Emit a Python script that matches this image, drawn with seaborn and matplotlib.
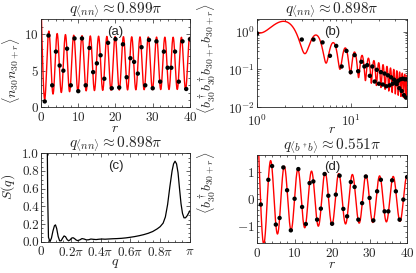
import numpy as np
import seaborn as sns
import matplotlib.pyplot as plt
from matplotlib.ticker import MultipleLocator, FixedLocator

# (a) density-density correlation, r = 1..40
r_a = list(range(1, 41))
nn_a = [0.8, 9.8, 3.0, 7.6, 5.7, 5.0, 8.0, 3.0, 9.4, 2.2,
        9.4, 3.0, 8.1, 4.8, 6.0, 7.1, 3.9, 8.8, 2.6, 9.3,
        2.7, 8.6, 4.1, 6.7, 6.2, 4.6, 8.2, 3.0, 9.2, 2.6,
        9.0, 3.5, 7.6, 5.4, 5.4, 7.6, 3.5, 9.0, 2.5, 9.3]
# fit parameters
q_a = 0.899
mean_a, amp_a, amp0_a, beta_a, phi_a = 6.0, 3.3, 1.6, 0.5, 0.101

# (b) pair correlation (log-log)
r_b = [1, 3, 4, 5, 6, 7, 8, 9, 10, 11, 12, 13, 14, 15, 16, 17, 18, 19, 20,
       21, 22, 23, 24, 25, 26, 27, 28, 29, 30, 31, 32, 33, 34, 35, 36, 37,
       38, 39, 40]
pair_b = [0.9, 0.62, 0.62, 0.52, 0.23, 0.42, 0.12, 0.31, 0.085, 0.24,
          0.09, 0.16, 0.12, 0.13, 0.068, 0.12, 0.048, 0.098, 0.042, 0.085,
          0.04, 0.078, 0.036, 0.07, 0.038, 0.062, 0.042, 0.054, 0.045, 0.041,
          0.05, 0.032, 0.055, 0.027, 0.057, 0.021, 0.055, 0.018, 0.055]
q_b = 0.898
amp_b, alpha_b, mod_b, phi_b = 2.5, 1.1, 0.62, 0.114

# (c) structure factor, q in units of pi
q_c = [0.040, 0.045, 0.050, 0.060, 0.070, 0.080, 0.090, 0.097, 0.105, 0.115,
       0.125, 0.135, 0.145, 0.155, 0.165, 0.175, 0.185, 0.195, 0.205, 0.215,
       0.225, 0.235, 0.245, 0.26, 0.275, 0.29, 0.305, 0.32, 0.335, 0.35,
       0.37, 0.39, 0.41, 0.43, 0.45, 0.48, 0.51, 0.54, 0.57, 0.60,
       0.63, 0.66, 0.69, 0.72, 0.75, 0.78, 0.80, 0.82, 0.835, 0.85,
       0.865, 0.88, 0.89, 0.90, 0.91, 0.92, 0.93, 0.94, 0.95, 0.96,
       0.97, 0.98, 0.99, 1.00]
s_c = [1.5, 0.5, 0.05, 0.0, 0.04, 0.12, 0.18, 0.19, 0.15, 0.06,
       0.01, 0.01, 0.04, 0.065, 0.055, 0.025, 0.01, 0.02, 0.04, 0.045,
       0.035, 0.02, 0.012, 0.02, 0.035, 0.03, 0.02, 0.022, 0.03, 0.027,
       0.024, 0.028, 0.03, 0.028, 0.03, 0.033, 0.035, 0.038, 0.043, 0.05,
       0.058, 0.068, 0.08, 0.095, 0.115, 0.145, 0.17, 0.21, 0.28, 0.42,
       0.62, 0.8, 0.88, 0.91, 0.88, 0.78, 0.6, 0.43, 0.32, 0.27,
       0.27, 0.29, 0.32, 0.35]
q_ticks = ['0', r'$0.2\pi$', r'$0.4\pi$', r'$0.6\pi$', r'$0.8\pi$', r'$\pi$']

# (d) single particle correlation (r = 2 lies above the frame)
r_d = [1] + list(range(3, 41))
g_d = [-0.2, 0.7, 1.2, -0.93, -0.69, 1.15, 0.32, -1.14, 0.01,
       1.09, -0.29, -0.91, 0.58, 0.64, -0.75, -0.35, 0.91, 0.12, -0.9,
       0.16, 0.85, -0.36, -0.63, 0.62, 0.44, -0.75, -0.15, 0.82, 0.04,
       -0.78, 0.28, 0.7, -0.45, -0.45, 0.68, 0.28, -0.75, -0.02, 0.8]
q_d = 0.551
amp_d, alpha_d = 1.88, 0.23

sns.set_style('ticks')
plt.rcParams['font.family'] = 'serif'
plt.rcParams['font.serif'] = ['cmr10']
plt.rcParams['mathtext.fontset'] = 'cm'
plt.rcParams['axes.formatter.use_mathtext'] = True
plt.rcParams['axes.linewidth'] = 0.6

fig = plt.figure(figsize=(4.16, 2.73), dpi=100)
ax_a = fig.add_axes([0.0986, 0.607, 0.358, 0.322])
ax_b = fig.add_axes([0.618, 0.607, 0.3606, 0.3216])
ax_c = fig.add_axes([0.0986, 0.1147, 0.358, 0.324])
ax_d = fig.add_axes([0.618, 0.11, 0.3606, 0.322])

fs_tick, fs_lab, fs_title = 9.5, 10, 11

# (a)
rr = np.linspace(0.05, 40, 3000)
fit_a = mean_a + (amp_a + amp0_a * rr ** -beta_a) * np.cos(np.pi * (q_a * rr + phi_a))
sns.lineplot(x=rr, y=fit_a, ax=ax_a, color='red', lw=1.0, estimator=None, sort=False)
sns.scatterplot(x=r_a, y=nn_a, ax=ax_a, color='black', s=10, edgecolor='none', zorder=3)
ax_a.set_xlim(0, 40)
ax_a.set_ylim(0, 12)
ax_a.xaxis.set_major_locator(MultipleLocator(10))
ax_a.xaxis.set_minor_locator(MultipleLocator(2))
ax_a.yaxis.set_major_locator(MultipleLocator(5))
ax_a.yaxis.set_minor_locator(MultipleLocator(1))
ax_a.set_title(r'$q_{\langle nn\rangle}\approx 0.899\pi$', fontsize=fs_title, pad=0)
ax_a.set_ylabel(r'$\langle n_{30}n_{30+r}\rangle$', fontsize=fs_lab)
ax_a.yaxis.set_label_coords(-0.125, 0.42)
ax_a.set_xlabel(r'$r$', fontsize=fs_lab, labelpad=-1)

# (b)
rb = np.linspace(1, 40, 3000)
fit_b = amp_b * rb ** -alpha_b * (1 + mod_b * np.cos(np.pi * (q_b * rb + phi_b)))
sns.lineplot(x=rb, y=fit_b, ax=ax_b, color='red', lw=1.0, estimator=None, sort=False)
sns.scatterplot(x=r_b, y=pair_b, ax=ax_b, color='black', s=10, edgecolor='none', zorder=3)
ax_b.set_xscale('log')
ax_b.set_yscale('log')
ax_b.set_xlim(1, 40)
ax_b.set_ylim(0.01, 2.1)
ax_b.set_title(r'$q_{\langle nn\rangle}\approx 0.898\pi$', fontsize=fs_title, pad=0)
ax_b.set_ylabel(r'$\langle b^\dagger_{30}b^\dagger_{30}b_{30+r}b_{30+r}\rangle$', fontsize=fs_lab)
ax_b.yaxis.set_label_coords(-0.26, 0.56)
ax_b.set_xlabel(r'$r$', fontsize=fs_lab, labelpad=-4)

# (c)
sns.lineplot(x=q_c, y=s_c, ax=ax_c, color='black', lw=0.9, estimator=None, sort=False)
ax_c.set_xlim(0, 1)
ax_c.set_ylim(0, 1)
ax_c.xaxis.set_major_locator(FixedLocator([0, 0.2, 0.4, 0.6, 0.8, 1.0]))
ax_c.set_xticklabels(q_ticks)
ax_c.xaxis.set_minor_locator(MultipleLocator(0.05))
ax_c.yaxis.set_major_locator(MultipleLocator(0.2))
ax_c.yaxis.set_minor_locator(MultipleLocator(0.05))
ax_c.yaxis.set_major_formatter(plt.FormatStrFormatter('%.1f'))
ax_c.set_title(r'$q_{\langle nn\rangle}\approx 0.898\pi$', fontsize=fs_title, pad=0)
ax_c.set_ylabel(r'$S(q)$', fontsize=fs_lab)
ax_c.yaxis.set_label_coords(-0.16, 0.62)
ax_c.set_xlabel(r'$q$', fontsize=fs_lab, labelpad=-1)

# (d)
rd = np.linspace(0.05, 40, 3000)
fit_d = amp_d * rd ** -alpha_d * np.cos(np.pi * q_d * rd)
sns.lineplot(x=rd, y=fit_d, ax=ax_d, color='red', lw=1.0, estimator=None, sort=False)
sns.scatterplot(x=r_d, y=g_d, ax=ax_d, color='black', s=10, edgecolor='none', zorder=3)
ax_d.set_xlim(0, 40)
ax_d.set_ylim(-1.6, 1.6)
ax_d.xaxis.set_major_locator(MultipleLocator(10))
ax_d.xaxis.set_minor_locator(MultipleLocator(2))
ax_d.yaxis.set_major_locator(MultipleLocator(1))
ax_d.yaxis.set_minor_locator(MultipleLocator(0.2))
ax_d.set_title(r'$q_{\langle b^\dagger b\rangle}\approx 0.551\pi$', fontsize=fs_title, pad=0)
ax_d.set_ylabel(r'$\langle b^\dagger_{30}b_{30+r}\rangle$', fontsize=fs_lab)
ax_d.yaxis.set_label_coords(-0.26, 0.68)
ax_d.set_xlabel(r'$r$', fontsize=fs_lab, labelpad=-1)

for ax, lab in zip([ax_a, ax_b, ax_c, ax_d], ['(a)', '(b)', '(c)', '(d)']):
    ax.tick_params(which='both', direction='in', top=True, right=True,
                   labelsize=fs_tick, width=0.5)
    ax.tick_params(axis='x', which='both', pad=3)
    ax.tick_params(axis='y', which='both', pad=1.5)
    ax.tick_params(which='major', length=3)
    ax.tick_params(which='minor', length=1.5)
    ax.text(0.5, 0.86, lab, transform=ax.transAxes, ha='center', va='center',
            fontsize=9.5, family='Liberation Sans')
ax_b.tick_params(axis='x', which='both', pad=4.5)

fig.savefig('out.png', dpi=100)
